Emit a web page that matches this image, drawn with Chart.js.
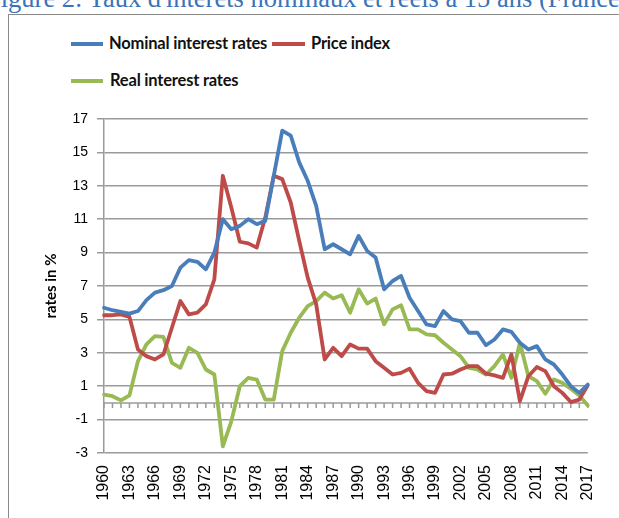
<!DOCTYPE html>
<html>
<head>
<meta charset="utf-8">
<script src="https://cdn.jsdelivr.net/npm/chart.js@4.4.1/dist/chart.umd.min.js"></script>
<style>
  body { margin: 0; background: #fff; overflow: hidden; }
  #wrap { position: relative; width: 619px; height: 518px; overflow: hidden; }
  #title { position: absolute; left: -14px; top: -15px; font-family: "Liberation Serif", serif; font-size: 26.5px; line-height: 26.5px; color: #3B73B9; white-space: nowrap; }
  #frame { position: absolute; left: 8px; top: 14px; width: 700px; height: 600px; border-left: 1px solid #8a8a8a; border-top: 1px solid #8a8a8a; }
  .key { position: absolute; height: 4px; width: 32px; }
  .lbl { position: absolute; font-family: Lato, sans-serif; font-weight: 700; font-size: 16.5px; line-height: 18px; color: #111; white-space: nowrap; letter-spacing: -0.2px; }
  #box { position: absolute; left: 0; top: 0; width: 619px; height: 518px; }
</style>
</head>
<body>
<div id="wrap">
  <div id="title">Figure 2: Taux d'intérêts nominaux et réels à 15 ans (France)</div>
  <div id="frame"></div>
  <div class="key" style="left:71px; top:42px; background:#4A7EBB"></div>
  <div class="lbl" style="left:109px; top:34px">Nominal interest rates</div>
  <div class="key" style="left:272px; top:42px; width:33px; background:#BE4B48"></div>
  <div class="lbl" style="left:311px; top:34px">Price index</div>
  <div class="key" style="left:71px; top:79px; background:#98B954"></div>
  <div class="lbl" style="left:110px; top:71px">Real interest rates</div>
  <div id="box"><canvas id="chart"></canvas></div>
</div>
<script>
// values, 1960-2017
const years = [];
for (let y = 1960; y <= 2017; y++) years.push(String(y));

const nominalRates = [
  5.7, 5.55, 5.45, 5.35, 5.5, 6.15, 6.6, 6.75, 7.0, 8.1,
  8.55, 8.45, 8.0, 9.0, 11.0, 10.4, 10.6, 11.0, 10.7, 10.9,
  13.6, 16.3, 16.0, 14.4, 13.3, 11.8, 9.2, 9.5, 9.2, 8.9,
  10.0, 9.1, 8.7, 6.8, 7.3, 7.6, 6.3, 5.5, 4.7, 4.6,
  5.5, 5.0, 4.9, 4.2, 4.2, 3.45, 3.8, 4.4, 4.25, 3.6,
  3.2, 3.4, 2.6, 2.3, 1.7, 1.0, 0.6, 1.1
];
const priceIndex = [
  5.25, 5.25, 5.3, 5.15, 3.2, 2.8, 2.6, 2.9, 4.5, 6.1,
  5.3, 5.4, 5.9, 7.4, 13.6, 11.7, 9.65, 9.55, 9.3, 11.1,
  13.6, 13.4, 12.0, 9.7, 7.5, 5.9, 2.6, 3.3, 2.8, 3.5,
  3.25, 3.25, 2.5, 2.1, 1.7, 1.8, 2.05, 1.2, 0.7, 0.6,
  1.7, 1.75, 2.0, 2.2, 2.2, 1.75, 1.65, 1.5, 2.9, 0.1,
  1.6, 2.15, 1.9, 1.0, 0.6, 0.05, 0.2, 1.05
];
const realRates = [
  0.5, 0.4, 0.15, 0.45, 2.5, 3.5, 4.0, 3.95, 2.4, 2.1,
  3.3, 3.0, 2.0, 1.7, -2.6, -1.1, 1.0, 1.5, 1.4, 0.2,
  0.2, 3.1, 4.2, 5.1, 5.8, 6.1, 6.6, 6.25, 6.45, 5.4,
  6.8, 5.95, 6.25, 4.7, 5.6, 5.85, 4.4, 4.4, 4.1, 4.05,
  3.6, 3.2, 2.8, 2.1, 2.0, 1.7, 2.2, 2.9, 1.5, 3.6,
  1.6, 1.3, 0.55, 1.4, 1.2, 0.85, 0.45, -0.15
];
const labelStep = 3;

const gridColor = '#9a9a9a';

// Excel style horizontal axis crossing at 0, with a tick under every year
const zeroAxis = {
  id: 'zeroAxis',
  beforeDatasetsDraw(chart) {
    const { ctx, chartArea, scales: { x, y } } = chart;
    const y0 = y.getPixelForValue(0);
    ctx.save();
    ctx.strokeStyle = gridColor;
    ctx.lineWidth = 1.5;
    ctx.beginPath();
    ctx.moveTo(chartArea.left, y0);
    ctx.lineTo(chartArea.right, y0);
    years.forEach((_, i) => {
      const px = x.getPixelForValue(i);
      ctx.moveTo(px, y0);
      ctx.lineTo(px, y0 + 5);
    });
    ctx.stroke();
    ctx.restore();
  }
};

new Chart(document.getElementById('chart'), {
  type: 'line',
  data: {
    labels: years,
    datasets: [
      { label: 'Nominal interest rates', data: nominalRates, borderColor: '#4A7EBB' },
      { label: 'Price index', data: priceIndex, borderColor: '#BE4B48' },
      { label: 'Real interest rates', data: realRates, borderColor: '#98B954' }
    ]
  },
  options: {
    responsive: true,
    maintainAspectRatio: false,
    animation: false,
    layout: { padding: { left: 40, top: 119, right: 13, bottom: 0 } },
    elements: {
      line: { borderWidth: 3.8, tension: 0, borderCapStyle: 'round', borderJoinStyle: 'round' },
      point: { radius: 0 }
    },
    plugins: {
      legend: { display: false },
      tooltip: { enabled: false }
    },
    scales: {
      x: {
        offset: false,
        grid: { display: false, drawTicks: false },
        border: { display: false },
        ticks: {
          autoSkip: false,
          maxRotation: 90,
          minRotation: 90,
          padding: 12,
          color: '#000',
          font: { family: 'Liberation Sans', size: 16 },
          callback: (v, i) => (i % labelStep === 0 ? years[i] : '')
        },
        afterFit: (s) => { s.height = 65; }
      },
      y: {
        min: -3,
        max: 17,
        ticks: {
          stepSize: 2,
          padding: 9,
          color: '#000',
          font: { family: 'Liberation Sans', size: 14 }
        },
        grid: { color: gridColor, lineWidth: 1.5, tickLength: 7 },
        border: { display: true, color: gridColor, width: 1.5 },
        title: {
          display: true,
          text: 'rates in %',
          color: '#000',
          padding: { top: 2, bottom: 4 },
          font: { family: 'Lato', size: 15, weight: 'bold' }
        },
        afterFit: (s) => { s.width = 64; }
      }
    }
  },
  plugins: [zeroAxis]
});
</script>
</body>
</html>
